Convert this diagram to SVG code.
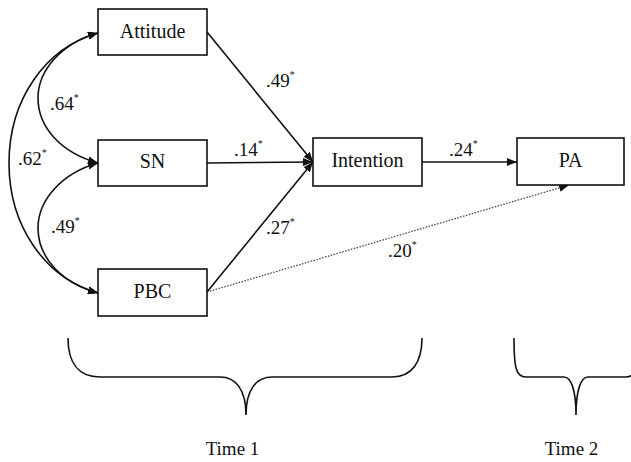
<svg xmlns="http://www.w3.org/2000/svg" width="631" height="462" viewBox="0 0 631 462">
<defs>
<marker id="ah" viewBox="0 0 10 8" refX="10" refY="4" markerWidth="10" markerHeight="8" markerUnits="userSpaceOnUse" orient="auto-start-reverse">
<path d="M0,0 L10,4 L0,8 Z" fill="#111"/>
</marker>
</defs>
<style>
.box{fill:#fff;stroke:#111;stroke-width:1.6}
.nt{font-size:20px;fill:#111;text-anchor:middle}
.lb{font-size:19px;fill:#111}
.st{font-size:10px}
.ln{fill:none;stroke:#111;stroke-width:1.6}
.dot{fill:none;stroke:#444;stroke-width:1.3;stroke-dasharray:1.5,1.5}
.br{fill:none;stroke:#111;stroke-width:1.6}
</style>
<rect width="631" height="462" fill="#fff"/>
<g id="connectors">
<path class="ln" d="M98,33 C62,43 38,70 38,98 C38,128 62,153 98,163" marker-start="url(#ah)" marker-end="url(#ah)"/>
<path class="ln" d="M98,163 C62,173 38,200 38,228 C38,258 62,283 98,293" marker-start="url(#ah)" marker-end="url(#ah)"/>
<path class="ln" d="M98,33 C45,48 9,100 9,163 C9,226 45,278 98,293" marker-start="url(#ah)" marker-end="url(#ah)"/>
<line class="ln" x1="207" y1="32" x2="313" y2="162" marker-end="url(#ah)"/>
<line class="ln" x1="207" y1="163" x2="313" y2="162" marker-end="url(#ah)"/>
<line class="ln" x1="207" y1="292" x2="313" y2="162" marker-end="url(#ah)"/>
<line class="ln" x1="422" y1="162" x2="517" y2="162" marker-end="url(#ah)"/>
<line class="dot" x1="207" y1="292" x2="569" y2="185" marker-end="url(#ah)"/>
</g>
<g font-family="Liberation Serif, DejaVu Serif, serif">
<g id="attitude"><rect class="box" x="98" y="9" width="109" height="46"/><text class="nt" x="152.5" y="38">Attitude</text></g>
<g id="sn"><rect class="box" x="98" y="140" width="109" height="46"/><text class="nt" x="152.5" y="168">SN</text></g>
<g id="pbc"><rect class="box" x="98" y="269" width="109" height="47"/><text class="nt" x="152.5" y="298">PBC</text></g>
<g id="intention"><rect class="box" x="313" y="138" width="109" height="48"/><text class="nt" x="367.5" y="167">Intention</text></g>
<g id="pa"><rect class="box" x="517" y="138" width="107" height="47"/><text class="nt" x="570.5" y="167">PA</text></g>
<g id="labels">
<text class="lb" x="266" y="87">.49<tspan class="st" dy="-9">*</tspan></text>
<text class="lb" x="234" y="156">.14<tspan class="st" dy="-9">*</tspan></text>
<text class="lb" x="266" y="234">.27<tspan class="st" dy="-9">*</tspan></text>
<text class="lb" x="449" y="156">.24<tspan class="st" dy="-9">*</tspan></text>
<text class="lb" x="388" y="257">.20<tspan class="st" dy="-9">*</tspan></text>
<text class="lb" x="50" y="110">.64<tspan class="st" dy="-9">*</tspan></text>
<text class="lb" x="18" y="165">.62<tspan class="st" dy="-9">*</tspan></text>
<text class="lb" x="51" y="233">.49<tspan class="st" dy="-9">*</tspan></text>
</g>
<g id="time-labels">
<text class="nt" x="232.5" y="455" style="font-size:19px">Time 1</text>
<text class="nt" x="571.5" y="455" style="font-size:19px">Time 2</text>
</g>
</g>
<g id="braces">
<path class="br" d="M68,338 C68,362 78,377 100,377 L220,377 C236,377 246,390 246,415 C246,390 256,377 272,377 L392,377 C412,377 422,362 422,338"/>
<path class="br" d="M514,338 C514,368 516,377 526,377 L564,377 C571,377 576,390 576,415 C576,390 581,377 588,377 L626,377 C636,377 638,368 638,338"/>
</g>
</svg>
